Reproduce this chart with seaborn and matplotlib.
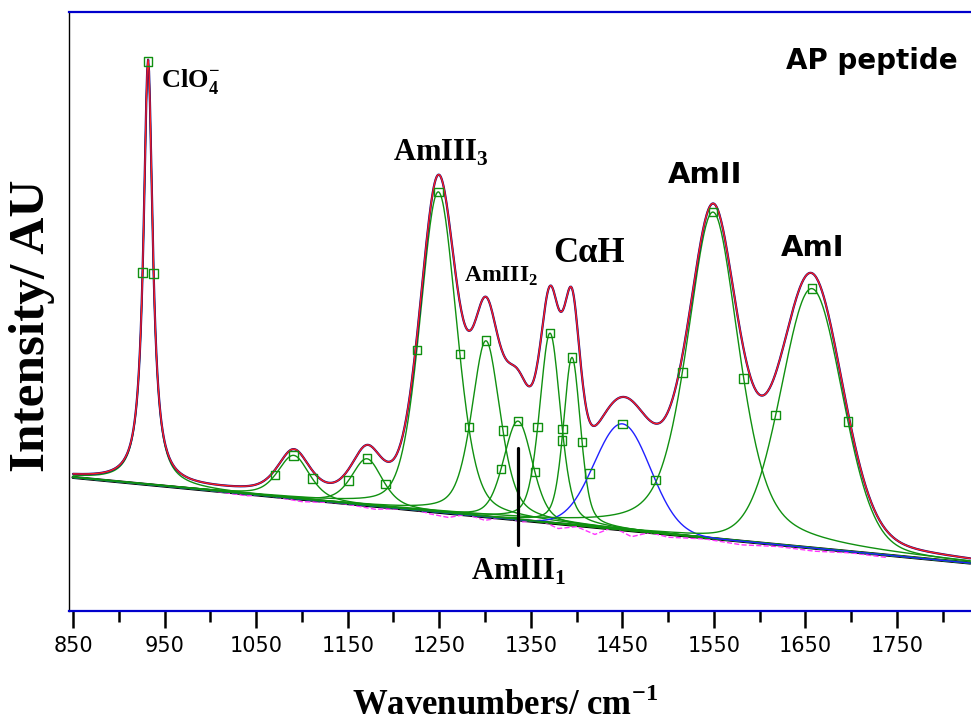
import numpy as np
import pandas as pd
import seaborn as sns
import matplotlib.pyplot as plt
from matplotlib.ticker import MultipleLocator

# Bandes du fit: position, hauteur au-dessus de la ligne de base, largeur a mi-hauteur
band_names = ['ClO4', 'b1091', 'b1171', 'AmIII3', 'AmIII2', 'AmIII1',
              'CaH1', 'CaH2', 'b1450', 'AmII', 'AmI']
band_centers = [932, 1091, 1171, 1249, 1301, 1336, 1371, 1395, 1450, 1549, 1657]
band_heights = [70.6, 7.2, 7.8, 53.5, 29.4, 16.5, 31.7, 28.0, 17.7, 54.5, 43.3]
band_fwhm = [12, 41, 40, 47, 37, 37, 27, 22, 72, 67, 79]
band_lorentz = [1.0, 0.5, 0.5, 0.3, 0.5, 0.3, 0.4, 0.4, 0.0, 0.5, 0.15]
band_colors = ['#109010'] * 8 + ['#2020ff'] + ['#109010'] * 2

# ligne de base lineaire
baseline_x = [850, 1830]
baseline_y = [22.3, 8.0]

# residu (trace magenta en pointilles, autour de la ligne de base)
resid_x = [1000, 1040, 1060, 1100, 1140, 1180, 1220, 1240, 1260, 1280, 1300, 1320,
           1340, 1360, 1380, 1400, 1420, 1440, 1460, 1480, 1500, 1540, 1580, 1620,
           1660, 1700, 1740]
resid_y = [0.0, -0.3, 0.1, -0.4, 0.0, -0.5, 0.2, -0.4, -0.7, 0.1, -0.6, 0.2,
           -0.3, 0.3, -0.8, -0.2, -1.2, 0.3, -1.0, 0.0, -0.5, -0.2, -0.6, -0.3,
           -0.5, -0.2, -0.4]

wn = np.arange(850, 1831, 1.0)
base = np.interp(wn, baseline_x, baseline_y)


def band_shape(c, h, w, eta):
    d = (wn - c) / (w / 2.0)
    return h * (eta / (1 + d ** 2) + (1 - eta) * np.exp(-np.log(2) * d ** 2))


comps = []
total = base.copy()
for name, c, h, w, eta in zip(band_names, band_centers, band_heights, band_fwhm, band_lorentz):
    y = band_shape(c, h, w, eta)
    total += y
    comps.append(pd.DataFrame({'wn': wn, 'I': base + y, 'band': name}))
df_comp = pd.concat(comps, ignore_index=True)

# marqueurs: sommet et points a mi-hauteur
mk_x, mk_y = [], []
for c, h, w in zip(band_centers, band_heights, band_fwhm):
    for xx, frac in [(c - w / 2, 0.5), (c, 1.0), (c + w / 2, 0.5)]:
        mk_x.append(xx)
        mk_y.append(np.interp(xx, baseline_x, baseline_y) + frac * h)

sns.set_style('white')
plt.rcParams['text.color'] = 'black'
plt.rcParams['xtick.color'] = 'black'
plt.rcParams['mathtext.fontset'] = 'custom'
plt.rcParams['mathtext.rm'] = 'Liberation Serif'
plt.rcParams['mathtext.bf'] = 'Liberation Serif:bold'

fig = plt.figure(figsize=(9.71, 7.27), dpi=100)
ax = fig.add_axes([69 / 971, 116 / 727, 1 - 69 / 971, 599 / 727])

ax.plot(wn, base, color='black', lw=2.2, zorder=2)
sns.lineplot(data=df_comp, x='wn', y='I', hue='band', palette=dict(zip(band_names, band_colors)),
             lw=1.0, legend=False, ax=ax, zorder=3, estimator=None, sort=False)
ax.plot(resid_x, np.interp(resid_x, baseline_x, baseline_y) + np.array(resid_y),
        color='#ff33ff', lw=1.0, ls='--', zorder=2)
ax.plot(wn, total, color='#000080', lw=1.6, zorder=4)
ax.plot(wn, total, color='#ff2020', lw=1.0, zorder=5)
ax.scatter(mk_x, mk_y, marker='s', s=38, facecolors='none', edgecolors='#109010', linewidths=1.0, zorder=6)

# trait vertical AmIII1
ax.plot([1336, 1336], [11.0, 27.2], color='black', lw=2.3, zorder=7)

ax.set_xlim(845.6, 1830.8)
ax.set_ylim(0, 100)
ax.set_yticks([])
ax.xaxis.set_major_locator(MultipleLocator(100, offset=50))
ax.xaxis.set_minor_locator(MultipleLocator(100))
ax.tick_params(axis='x', which='major', length=12, width=1.8, direction='out',
               labelsize=15, pad=6, bottom=True, colors='black')
ax.tick_params(axis='x', which='minor', length=8, width=1.8, direction='out', bottom=True)
ax.set_xlabel('')
ax.set_ylabel('')

for s in ['top', 'bottom']:
    ax.spines[s].set_color('#0000cc')
    ax.spines[s].set_linewidth(1.6)
ax.spines['left'].set_color('black')
ax.spines['left'].set_linewidth(1.0)
ax.spines['right'].set_visible(False)

serif = 'Liberation Serif'
ax.text(946, 88.3, 'ClO$_\\mathbf{4}^\\mathbf{-}$', fontsize=19, fontweight='bold', family=serif,
        ha='left', va='center')
ax.text(1252, 76.5, 'AmIII$_\\mathbf{3}$', fontsize=22, fontweight='bold', family=serif, ha='center', va='center')
ax.text(1318, 55.8, 'AmIII$_\\mathbf{2}$', fontsize=17, fontweight='bold', family=serif, ha='center', va='center')
ax.text(1414, 59.6, 'C\u03b1H', fontsize=25, fontweight='bold', family=serif, ha='center', va='center')
ax.text(1337, 6.5, 'AmIII$_\\mathbf{1}$', fontsize=22, fontweight='bold', family=serif, ha='center', va='center')
ax.text(1540, 72.8, 'AmII', fontsize=21, fontweight='bold', ha='center', va='center')
ax.text(1658, 60.6, 'AmI', fontsize=21, fontweight='bold', ha='center', va='center')
ax.text(1722, 91.8, 'AP peptide', fontsize=20, fontweight='bold', ha='center', va='center')

fig.text(505 / 971, 1 - 706 / 727, 'Wavenumbers/ cm$^\\mathbf{-1}$', fontsize=25,
         fontweight='bold', family=serif, ha='center', va='center')
fig.text(32 / 971, 1 - 326 / 727, 'Intensity/ AU', fontsize=37, fontweight='bold',
         family=serif, rotation=90, ha='center', va='center')

fig.savefig('out.png', dpi=100)
